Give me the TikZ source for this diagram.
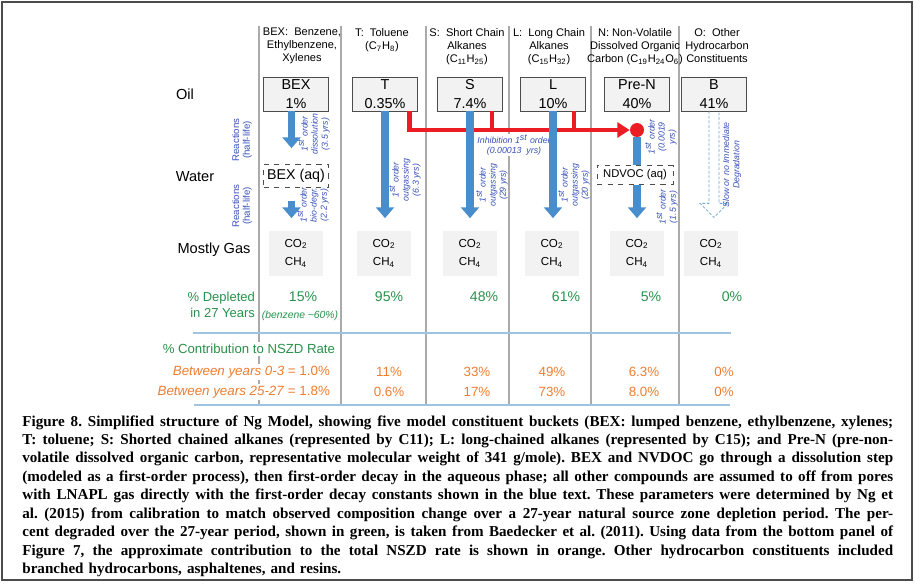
\documentclass[tikz,border=0pt]{standalone}
\usepackage{fontspec}
\setmainfont{Liberation Sans}
\newfontfamily\capfont{Liberation Serif}
\usetikzlibrary{arrows.meta, positioning}
\definecolor{flowblue}{RGB}{72,142,205}
\definecolor{labblue}{RGB}{55,80,185}
\definecolor{inhred}{RGB}{236,28,36}
\definecolor{deplgreen}{RGB}{40,145,75}
\definecolor{nszdorange}{RGB}{237,125,49}
\definecolor{rulegray}{RGB}{170,170,170}
\definecolor{rowblue}{RGB}{160,195,228}
\definecolor{boxgray}{RGB}{242,242,242}
\newcommand{\capline}[1]{\makebox[17.42cm][s]{\spaceskip=0pt\xspaceskip=0pt\relax #1}\\}

\begin{document}
\begin{tikzpicture}[x=0.02cm, y=-0.02cm,
  oilbox/.style={draw=black!70, fill=boxgray, minimum width=1.3cm, minimum height=0.68cm, inner sep=1pt, align=center, font=\fontsize{8.2}{10.6}\selectfont},
  aqbox/.style={draw=black!70, dashed, fill=white, inner sep=1pt},
  gasbox/.style={fill=boxgray, minimum width=1.08cm, minimum height=0.9cm, inner sep=0pt, align=center, font=\fontsize{6.6}{10.4}\selectfont},
  rowlab/.style={font=\fontsize{8.3}{10}\selectfont},
  colhead/.style={anchor=north, align=center, inner sep=0pt, font=\fontsize{6.3}{7.4}\selectfont},
  rlab/.style={rotate=90, align=center, inner sep=0pt, text=labblue, font=\itshape\fontsize{5}{5.8}\selectfont},
  react/.style={rotate=90, align=center, inner sep=0pt, text=labblue, font=\fontsize{5.5}{6.1}\selectfont},
  flowarrow/.style={draw=flowblue, line width=4.5pt, -{Triangle[width=10.2pt,length=6.2pt]}},
  inhib/.style={draw=inhred, line width=2.8pt},
  reddot/.style={circle, fill=inhred, minimum size=0.28cm, inner sep=0pt},
  hollowarrow/.style={draw=flowblue!80, line width=0.45pt, dash pattern=on 1.6pt off 1pt},
  sepline/.style={draw=rulegray, line width=0.6pt},
  rowline/.style={draw=rowblue, line width=1pt},
  grn/.style={text=deplgreen, inner sep=1pt},
  orn/.style={text=nszdorange, inner sep=1pt, font=\fontsize{7.6}{9}\selectfont},
  captext/.style={anchor=north west, inner sep=0pt, text width=17.42cm, align=left, font=\capfont\bfseries\fontsize{8.6}{10.49}\selectfont\frenchspacing}]
  \useasboundingbox (0,0) rectangle (915,583);
  \draw[black!70, line width=1pt] (2,2) rectangle (912,580);

  % column rules and table lines
  \foreach \sx in {259,341,426,509,591,679}
    \draw[sepline] (\sx,26) -- (\sx,405);
  \draw[rowline] (193,333) -- (731,333);
  \draw[rowline] (194,405) -- (730,405);

  % column headers
  \node[colhead] (hbex) at (302,28) {BEX:\ \ Benzene,\\Ethylbenzene,\\Xylenes};
  \node[colhead] (htol) at (382,28) {T:\ \ Toluene\\(C\textsubscript{7}H\textsubscript{8})};
  \node[colhead] (hsca) at (467,28) {S:\ \ Short Chain\\Alkanes\\(C\textsubscript{11}H\textsubscript{25})};
  \node[colhead] (hlca) at (549,28) {L:\ \ Long Chain\\Alkanes\\(C\textsubscript{15}H\textsubscript{32})};
  \node[colhead] (hpren) at (635,28) {N: Non-Volatile\\Dissolved Organic\\Carbon (C\textsubscript{19}H\textsubscript{24}O\textsubscript{6})};
  \node[colhead] (hoth) at (717,28) {O:\ \ Other\\Hydrocarbon\\Constituents};

  % row labels
  \node[rowlab] (oil) at (185,94) {Oil};
  \node[rowlab] (water) at (195,177) {Water};
  \node[rowlab] (gas) at (214,250) {Mostly Gas};
  \node[react] (rx1) at (242,140) {Reactions\\(half-life)};
  \node[react] (rx2) at (242,206) {Reactions\\(half-life)};

  % buckets
  \foreach \nm/\bx/\lab in {bex/296/BEX\\1\%, tol/385/T\\0.35\%, sca/470/S\\7.4\%,
      lca/553/L\\10\%, pren/637/Pre-N\\40\%, oth/714/B\\41\%}
    \node[oilbox] (oil\nm) at (\bx,94) {\lab};
  \node[aqbox, minimum width=1.3cm, minimum height=0.46cm, font=\fontsize{8.1}{9}\selectfont] (aqbex) at (296,176) {BEX (aq)};
  \node[aqbox, minimum width=1.52cm, minimum height=0.38cm, font=\fontsize{6.4}{8}\selectfont] (ndvoc) at (635,175) {NDVOC (aq)};
  \foreach \nm/\gx in {bex/296, tol/384, sca/470, lca/552, pren/637, oth/711}
    \node[gasbox] (gas\nm) at (\gx,253) {CO\textsubscript{2}\\CH\textsubscript{4}};

  % inhibition
  \node[reddot] (dotN) at (637,130) {};
  \draw[inhib, -{Triangle[width=8.5pt,length=7pt]}] ([xshift=-0.16cm]oiltol.south east) |- (dotN.west);
  \draw[inhib] ([xshift=0.44cm]oilsca.south) -- ++(0,19);
  \draw[inhib] ([xshift=0.42cm]oillca.south) -- ++(0,19);
  \node[fill=white, inner sep=0.5pt, align=center, text=labblue, font=\itshape\fontsize{5}{5.6}\selectfont] (linh) at (514,145) {Inhibition 1\textsuperscript{st} order\\(0.00013\ \ yrs)};

  % decay arrows
  \draw[flowarrow, shorten >=0.32cm] ([xshift=-0.09cm]oilbex.south) -- ([xshift=-0.09cm]aqbex.north);
  \draw[flowarrow, shorten <=0.26cm, shorten >=0.24cm] ([xshift=-0.09cm]aqbex.south) -- ([xshift=-0.09cm]gasbex.north);
  \draw[flowarrow, shorten >=0.24cm] (oiltol.south) -- (oiltol.south |- gastol.north);
  \draw[flowarrow, shorten >=0.24cm] (oilsca.south) -- (oilsca.south |- gassca.north);
  \draw[flowarrow, shorten >=0.24cm] (oillca.south) -- (oillca.south |- gaslca.north);
  \draw[flowblue, line width=4.5pt] (dotN.south) -- (dotN.south |- ndvoc.north);
  \draw[flowarrow, shorten >=0.24cm] (dotN.south |- ndvoc.south) -- (dotN.south |- gaspren.north);
  \draw[hollowarrow] ([xshift=-0.1cm]oiloth.south) -- ++(0,92) -- ++(-9,0) -- ++(14,14)
    -- ++(14,-14) -- ++(-9,0) -- ([xshift=0.1cm]oiloth.south);

  % rate labels
  \node[rlab] (lbex1) at (314,134) {1\textsuperscript{st} order\\dissolution\\(3.5 yrs)};
  \node[rlab] (lbex2) at (313,205) {1\textsuperscript{st} order\\bio-degr.\\(2.2 yrs)};
  \node[rlab] (ltol) at (405,180) {1\textsuperscript{st} order\\outgassing\\(6.3 yrs)};
  \node[rlab] (lsca) at (492,185) {1\textsuperscript{st} order\\outgassing\\(29 yrs)};
  \node[rlab] (llca) at (574,185) {1\textsuperscript{st} order\\outgassing\\(20 yrs)};
  \node[rlab] (lpren1) at (661,137) {1\textsuperscript{st} order\\(0.0019\\yrs)};
  \node[rlab] (lpren2) at (667,207) {1\textsuperscript{st} order\\(1.5 yrs)};
  \node[rlab] (loth) at (732,165) {Slow or no Immediate\\Degradation};

  % depletion
  \node[grn, anchor=east, align=right, font=\fontsize{7.4}{9.4}\selectfont] (depl) at (257,305) {\% Depleted\\in 27 Years};
  \foreach \gx/\gv in {303/15, 389/95, 484/48, 566/61, 651/5, 732/0}
    \node[grn, font=\fontsize{8}{9}\selectfont] (dep\gx) at (\gx,297) {\gv\%};
  \node[grn, font=\itshape\fontsize{5.9}{7}\selectfont] (benz) at (300,316) {(benzene \textasciitilde60\%)};

  % NSZD contribution
  \node[grn, fill=white, anchor=east, font=\fontsize{7.5}{9}\selectfont] (nszd) at (337,349) {\% Contribution to NSZD Rate};
  \node[orn, fill=white, anchor=east] (yr1) at (332,372) {\textit{Between years 0-3} = 1.0\%};
  \node[orn, fill=white, anchor=east] (yr2) at (332,392) {\textit{Between years 25-27} = 1.8\%};
  \foreach \ox/\va/\vb in {389/11\%/0.6\%, 477/33\%/17\%, 552/49\%/73\%, 644/6.3\%/8.0\%, 724/0\%/0\%} {
    \node[orn] (ra\ox) at (\ox,372) {\va};
    \node[orn] (rb\ox) at (\ox,392) {\vb};
  }

  % caption
  \node[captext] (cap) at (22,415) {%
    \capline{Figure 8. Simplified structure of Ng Model, showing five model constituent buckets (BEX: lumped benzene, ethylbenzene, xylenes;}%
    \capline{T: toluene; S: Shorted chained alkanes (represented by C11); L: long-chained alkanes (represented by C15); and Pre-N (pre-non-}%
    \capline{volatile dissolved organic carbon, representative molecular weight of 341 g/mole). BEX and NVDOC go through a dissolution step}%
    \capline{(modeled as a first-order process), then first-order decay in the aqueous phase; all other compounds are assumed to off from pores}%
    \capline{with LNAPL gas directly with the first-order decay constants shown in the blue text. These parameters were determined by Ng et}%
    \capline{al. (2015) from calibration to match observed composition change over a 27-year natural source zone depletion period. The per-}%
    \capline{cent degraded over the 27-year period, shown in green, is taken from Baedecker et al. (2011). Using data from the bottom panel of}%
    \capline{Figure 7, the approximate contribution to the total NSZD rate is shown in orange. Other hydrocarbon constituents included}%
    branched hydrocarbons, asphaltenes, and resins.};
\end{tikzpicture}
\end{document}
